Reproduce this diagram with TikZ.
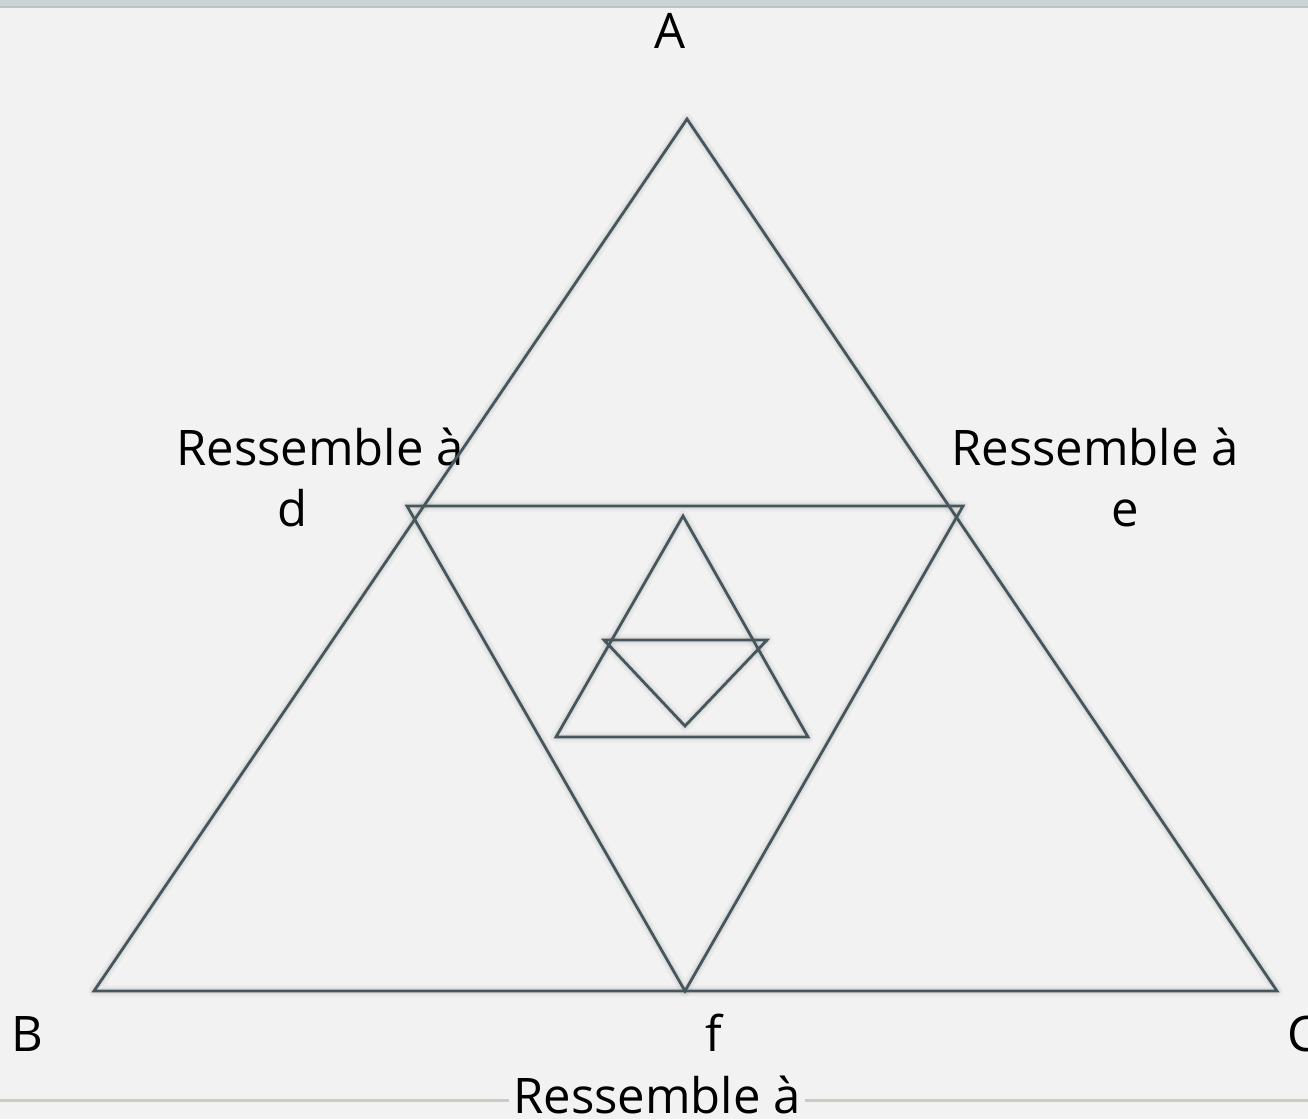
\documentclass[tikz,border=0pt]{standalone}
\usepackage{fontspec}
\setmainfont{Open Sans}
\definecolor{bg}{HTML}{F2F2F2}
\definecolor{band}{HTML}{CBD3D6}
\definecolor{bandedge}{HTML}{BDC1C2}
\definecolor{edge}{HTML}{46565D}
\definecolor{rulec}{HTML}{CACBC3}
\begin{document}
\begin{tikzpicture}[x=1pt,y=-1pt,
  tri/.style={draw=edge,line width=2.8pt,line join=miter},
  glow/.style={draw=black,line width=11pt,opacity=0.035,line join=round},
  glowin/.style={draw=black,line width=6pt,opacity=0.05,line join=round},
  lbl/.style={inner sep=0pt,font=\fontsize{49}{61}\selectfont,anchor=base,text=black}]
\useasboundingbox (0,0) rectangle (1308,1119);
\fill[bg] (0,0) rectangle (1308,1119);
\fill[band] (0,0) rectangle (1308,7);
\draw[bandedge,line width=1.5pt] (0,7) -- (1308,7);
\draw[rulec,line width=3pt] (0,1100) -- (1308,1100);
% vertices
\coordinate (A) at (687,119);
\coordinate (B) at (94,991);
\coordinate (C) at (1277,991);
\coordinate (D) at (407,506);
\coordinate (E) at (963,506);
\coordinate (F) at (685,991);
\coordinate (a2) at (683,516);
\coordinate (b2) at (556,737);
\coordinate (c2) at (808,737);
\coordinate (d2) at (604,640);
\coordinate (e2) at (767,640);
\coordinate (f2) at (685,726);
% labels
\node[lbl] (labA) at (670,48) {A};
\node[lbl] (labDtop) at (320,465) {Ressemble à};
\node[lbl] (labD) at (293,526) {d};
\node[lbl] (labEtop) at (1095,465) {Ressemble à};
\node[lbl] (labE) at (1125,526) {e};
\node[lbl] (labB) at (27,1051) {B};
\node[lbl] (labf) at (714,1051) {f};
\node[lbl,anchor=base west] (labC) at (1287,1051) {C};
\node[lbl,fill=bg,inner xsep=4pt] (labF) at (657,1113) {Ressemble à};
% soft shadows
\foreach \p/\q/\r in {A/B/C,D/E/F,a2/b2/c2,d2/e2/f2}{
  \draw[glow] (\p) -- (\q) -- (\r) -- cycle;
  \draw[glowin] (\p) -- (\q) -- (\r) -- cycle;
}
% triangles
\draw[tri] (A) -- (B) -- (C) -- cycle;
\draw[tri] (D) -- (E) -- (F) -- cycle;
\draw[tri] (a2) -- (b2) -- (c2) -- cycle;
\draw[tri] (d2) -- (e2) -- (f2) -- cycle;
\end{tikzpicture}
\end{document}
